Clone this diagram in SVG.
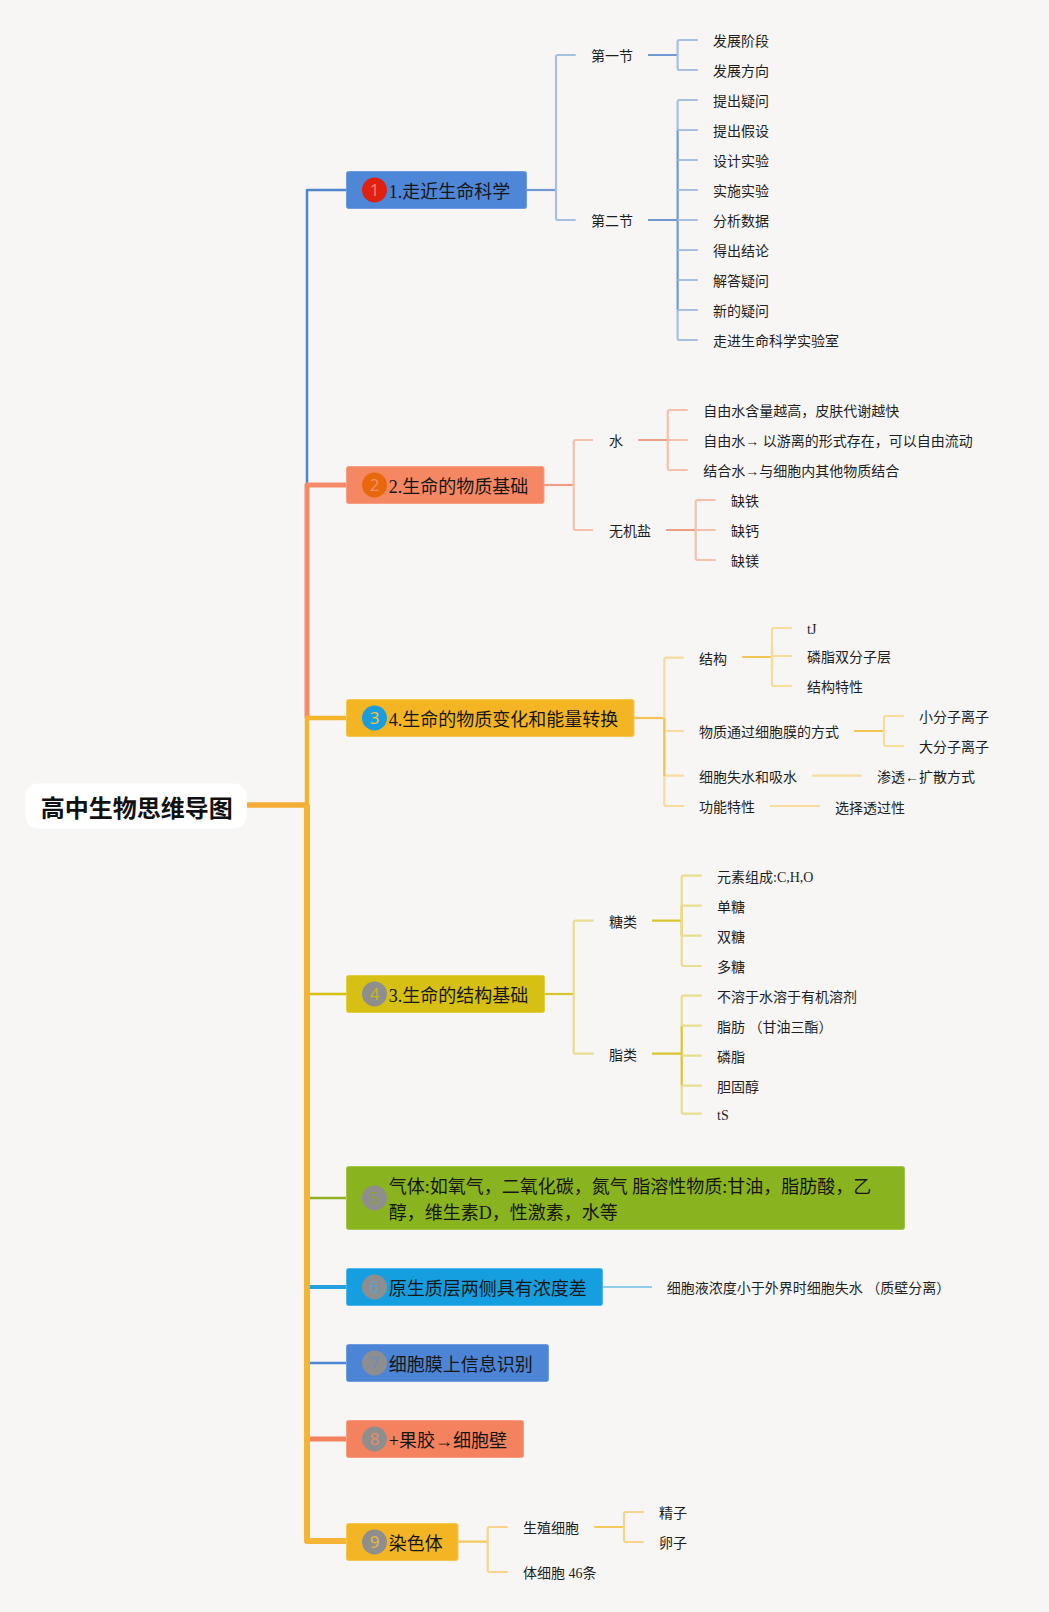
<svg xmlns="http://www.w3.org/2000/svg" width="1049" height="1612" viewBox="0 0 1049 1612">
<style>
text{font-family:"Liberation Serif","Noto Sans CJK SC",sans-serif;fill:#1e1e1e}
.l{font-size:14px}
.t{font-size:18px;fill:#161616}
.r{font-family:"Noto Sans CJK SC","Noto Sans",sans-serif;font-size:24px;font-weight:700;fill:#111}
.d{font-family:"Noto Sans","Liberation Sans",sans-serif;font-size:17px;text-anchor:middle}
.box{stroke-width:1;rx:2px;ry:2px}
.c{fill:none;stroke-linejoin:round}
.w2{stroke-width:2.2}
.bl{stroke:#a6c0e2}.bd{stroke:#6e99d3}
.sl{stroke:#f6c0ab}.sd{stroke:#ee9f83}
.yl{stroke:#f7dc9e}.yd{stroke:#f3c454}
.ol{stroke:#e9dd8e}.od{stroke:#d9c52f}
.gl{stroke:#f7d48a}.gd{stroke:#f5c860}
</style>
<rect width="1049" height="1612" fill="#f7f6f5"/>
<g id="connectors">
<path class="c" stroke="#4e86d0" stroke-width="2.5" d="M346 190H307V484"/>
<path class="c" stroke="#f58a68" stroke-width="5" d="M346 485H307V718"/>
<path class="c" stroke="#f4b52c" stroke-width="4.5" d="M346 718H307V805"/>
<path class="c" stroke="#f3ad37" stroke-width="5.5" d="M247 805H307"/>
<path class="c" stroke="#f4b535" stroke-width="6" d="M346 1541H307V805"/>
<path class="c" stroke="#d6c014" stroke-width="2.5" d="M310 994H346"/>
<path class="c" stroke="#8fb020" stroke-width="2.5" d="M310 1198H346"/>
<path class="c" stroke="#22a0e0" stroke-width="4" d="M310 1287H346"/>
<path class="c" stroke="#4c84d6" stroke-width="2.5" d="M310 1363H346"/>
<path class="c" stroke="#f5825e" stroke-width="5" d="M310 1439H346"/>

<path class="c w2 bd" d="M526.5 190H556"/>
<path class="c w2 bl" d="M575.7 55H558Q556 55 556 57V218Q556 220 558 220H575.7"/>
<path class="c w2 bd" d="M648 55H677.6M648 220H677.6M677.6 130V310"/>
<path class="c w2 bl" d="M697.8 40H679.6Q677.6 40 677.6 42V68Q677.6 70 679.6 70H697.8"/>
<path class="c w2 bl" d="M697.8 100H679.6Q677.6 100 677.6 102V130M677.6 310V338Q677.6 340 679.6 340H697.8M677.6 130H697.8M677.6 160H697.8M677.6 190H697.8M677.6 220H697.8M677.6 250H697.8M677.6 280H697.8M677.6 310H697.8"/>

<path class="c w2 sd" d="M544 485H573.7"/>
<path class="c w2 sl" d="M593 440H575.7Q573.7 440 573.7 442V528Q573.7 530 575.7 530H593"/>
<path class="c w2 sd" d="M638.3 440H667.7M666 530H695.7"/>
<path class="c w2 sl" d="M687.7 410H669.7Q667.7 410 667.7 412V468Q667.7 470 669.7 470H687.7M667.7 440H687.7"/>
<path class="c w2 sl" d="M715.7 500H697.7Q695.7 500 695.7 502V558Q695.7 560 697.7 560H715.7M695.7 530H715.7"/>

<path class="c w2 yd" d="M634 718H664.3"/>
<path class="c w2 yl" d="M683.7 657.7H666.3Q664.3 657.7 664.3 659.7V804Q664.3 806 666.3 806H683.7M664.3 731H683.7M664.3 775.7H683.7"/>
<path class="c w2 yd" d="M664.3 718V776M742.3 657H772M854 731H884M772 645V670"/>
<path class="c w2 yl" d="M791.7 628H774Q772 628 772 630V684Q772 686 774 686H791.7M772 656H791.7"/>
<path class="c w2 yl" d="M903.7 716H886Q884 716 884 718V744Q884 746 886 746H903.7"/>
<path class="c w2 yl" d="M812.3 775.7H861.7M770 806H820"/>

<path class="c w2 od" d="M544.6 994H573.7"/>
<path class="c w2 ol" d="M593.7 920.7H575.7Q573.7 920.7 573.7 922.7V1051.7Q573.7 1053.7 575.7 1053.7H593.7"/>
<path class="c w2 od" d="M652 920.7H681.7M652 1053.7H681.7M681.7 905.7V936M681.7 1025.7V1085.7"/>
<path class="c w2 ol" d="M701.7 875.7H683.7Q681.7 875.7 681.7 877.7V964Q681.7 966 683.7 966H701.7M681.7 905.7H701.7M681.7 935.7H701.7"/>
<path class="c w2 ol" d="M701.7 995.7H683.7Q681.7 995.7 681.7 997.7V1025.7M681.7 1085.7V1111.7Q681.7 1113.7 683.7 1113.7H701.7M681.7 1025.7H701.7M681.7 1055.7H701.7M681.7 1085.7H701.7"/>

<path class="c w2" stroke="#8fcdee" d="M602.6 1287H652"/>

<path class="c w2 gd" d="M458.3 1541.7H487.7M594.3 1527H624"/>
<path class="c w2 gl" d="M507.7 1527H489.7Q487.7 1527 487.7 1529V1570Q487.7 1572 489.7 1572H507.7"/>
<path class="c w2 gl" d="M643.7 1512H626Q624 1512 624 1514V1540Q624 1542 626 1542H643.7"/>
</g>

<g id="root"><rect x="25.5" y="783.5" width="221" height="45" rx="12" fill="#fff"/><text class="r" x="40.7" y="816.5">高中生物思维导图</text></g>

<g id="t1"><rect class="box" x="346.5" y="171.5" width="180" height="37" fill="#4e86d8" stroke="#6f9ce0"/><circle cx="374.5" cy="190" r="12.5" fill="#e02010"/><text class="d" x="374.5" y="196" style="fill:#f08070">1</text><text class="t" x="388.8" y="197.7">1.走近生命科学</text></g>
<g id="t2"><rect class="box" x="346.5" y="466.5" width="197.5" height="37" fill="#f58762" stroke="#f7a085"/><circle cx="374.5" cy="485" r="12.5" fill="#e8690b"/><text class="d" x="374.5" y="491" style="fill:#f58f6a">2</text><text class="t" x="388.8" y="492.7">2.生命的物质基础</text></g>
<g id="t3"><rect class="box" x="346.5" y="699.5" width="287.5" height="37" fill="#f4b525" stroke="#f7c850"/><circle cx="374.5" cy="718" r="12.5" fill="#1a9ddc"/><text class="d" x="374.5" y="724" style="fill:#f4c040">3</text><text class="t" x="388.8" y="725.7">4.生命的物质变化和能量转换</text></g>
<g id="t4"><rect class="box" x="346.5" y="975.5" width="198" height="37" fill="#d6c014" stroke="#e0cf40"/><circle cx="374.5" cy="994" r="12.5" fill="#8e8e8e"/><text class="d" x="374.5" y="1000" style="fill:#c8b420">4</text><text class="t" x="388.8" y="1001.7">3.生命的结构基础</text></g>
<g id="t5"><rect class="box" x="346.5" y="1166.5" width="558" height="63" fill="#8ab41f" stroke="#a3c748"/><circle cx="374.5" cy="1198" r="12.5" fill="#8e8e8e"/><text class="d" x="374.5" y="1204" style="fill:#8ea030">5</text><text class="t" x="388.8" y="1192.5">气体:如氧气，二氧化碳，氮气 脂溶性物质:甘油，脂肪酸，乙</text><text class="t" x="388.8" y="1218.5">醇，维生素D，性激素，水等</text></g>
<g id="t6"><rect class="box" x="346.5" y="1268.5" width="256" height="37" fill="#169fe0" stroke="#4fb6ea"/><circle cx="374.5" cy="1287" r="12.5" fill="#8e8e8e"/><text class="d" x="374.5" y="1293" style="fill:#5aa0d0">6</text><text class="t" x="388.8" y="1294.7">原生质层两侧具有浓度差</text></g>
<g id="t7"><rect class="box" x="346.5" y="1344.5" width="202" height="37" fill="#4c84d6" stroke="#6f9ce0"/><circle cx="374.5" cy="1363" r="12.5" fill="#8e8e8e"/><text class="d" x="374.5" y="1369" style="fill:#6a8cc8">7</text><text class="t" x="388.8" y="1370.7">细胞膜上信息识别</text></g>
<g id="t8"><rect class="box" x="346.5" y="1420.5" width="177" height="37" fill="#f5825e" stroke="#f89c80"/><circle cx="374.5" cy="1439" r="12.5" fill="#8e8e8e"/><text class="d" x="374.5" y="1445" style="fill:#e88a68">8</text><text class="t" x="388.8" y="1446.7">+果胶→细胞壁</text></g>
<g id="t9"><rect class="box" x="346.5" y="1523.5" width="111.5" height="37" fill="#f4b525" stroke="#f7c850"/><circle cx="374.5" cy="1542" r="12.5" fill="#8e8e8e"/><text class="d" x="374.5" y="1548" style="fill:#e8b840">9</text><text class="t" x="388.8" y="1549.7">染色体</text></g>

<g id="n1"><text class="l" x="591" y="61">第一节</text></g>
<g id="n2"><text class="l" x="591" y="226">第二节</text></g>
<g id="n3"><text class="l" x="713" y="46">发展阶段</text></g>
<g id="n4"><text class="l" x="713" y="76">发展方向</text></g>
<g id="n5"><text class="l" x="713" y="106">提出疑问</text></g>
<g id="n6"><text class="l" x="713" y="136">提出假设</text></g>
<g id="n7"><text class="l" x="713" y="166">设计实验</text></g>
<g id="n8"><text class="l" x="713" y="196">实施实验</text></g>
<g id="n9"><text class="l" x="713" y="226">分析数据</text></g>
<g id="n10"><text class="l" x="713" y="256">得出结论</text></g>
<g id="n11"><text class="l" x="713" y="286">解答疑问</text></g>
<g id="n12"><text class="l" x="713" y="316">新的疑问</text></g>
<g id="n13"><text class="l" x="713" y="346">走进生命科学实验室</text></g>

<g id="n14"><text class="l" x="609" y="446">水</text></g>
<g id="n15"><text class="l" x="609" y="536">无机盐</text></g>
<g id="n16"><text class="l" x="703.3" y="416">自由水含量越高，皮肤代谢越快</text></g>
<g id="n17"><text class="l" x="703.3" y="446">自由水→ 以游离的形式存在，可以自由流动</text></g>
<g id="n18"><text class="l" x="703.3" y="476">结合水→与细胞内其他物质结合</text></g>
<g id="n19"><text class="l" x="731" y="506">缺铁</text></g>
<g id="n20"><text class="l" x="731" y="536">缺钙</text></g>
<g id="n21"><text class="l" x="731" y="566">缺镁</text></g>

<g id="n22"><text class="l" x="699" y="664">结构</text></g>
<g id="n23"><text class="l" x="699" y="737">物质通过细胞膜的方式</text></g>
<g id="n24"><text class="l" x="699" y="782">细胞失水和吸水</text></g>
<g id="n25"><text class="l" x="699" y="812">功能特性</text></g>
<g id="n26"><text class="l" x="807" y="634">tJ</text></g>
<g id="n27"><text class="l" x="807" y="662">磷脂双分子层</text></g>
<g id="n28"><text class="l" x="807" y="692">结构特性</text></g>
<g id="n29"><text class="l" x="919" y="722">小分子离子</text></g>
<g id="n30"><text class="l" x="919" y="752">大分子离子</text></g>
<g id="n31"><text class="l" x="877" y="782">渗透←扩散方式</text></g>
<g id="n32"><text class="l" x="835" y="813">选择透过性</text></g>

<g id="n33"><text class="l" x="609" y="927">糖类</text></g>
<g id="n34"><text class="l" x="609" y="1060">脂类</text></g>
<g id="n35"><text class="l" x="717" y="882">元素组成:C,H,O</text></g>
<g id="n36"><text class="l" x="717" y="912">单糖</text></g>
<g id="n37"><text class="l" x="717" y="942">双糖</text></g>
<g id="n38"><text class="l" x="717" y="972">多糖</text></g>
<g id="n39"><text class="l" x="717" y="1002">不溶于水溶于有机溶剂</text></g>
<g id="n40"><text class="l" x="717" y="1032">脂肪 （甘油三酯）</text></g>
<g id="n41"><text class="l" x="717" y="1062">磷脂</text></g>
<g id="n42"><text class="l" x="717" y="1092">胆固醇</text></g>
<g id="n43"><text class="l" x="717" y="1120">tS</text></g>

<g id="n44"><text class="l" x="666.8" y="1293">细胞液浓度小于外界时细胞失水 （质壁分离）</text></g>

<g id="n45"><text class="l" x="523" y="1533">生殖细胞</text></g>
<g id="n46"><text class="l" x="523" y="1578">体细胞 46条</text></g>
<g id="n47"><text class="l" x="659" y="1518">精子</text></g>
<g id="n48"><text class="l" x="659" y="1548">卵子</text></g>
</svg>
